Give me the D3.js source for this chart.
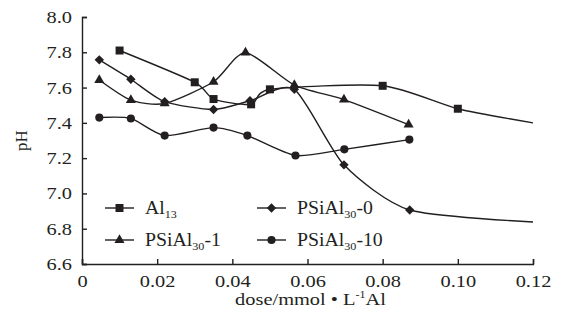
<!DOCTYPE html>
<html>
<head>
<meta charset="utf-8">
<script src="https://cdn.jsdelivr.net/npm/d3@7"></script>
<style>
  body { margin: 0; background: #fff; }
  svg text { font-family: "Liberation Serif", "Times New Roman", serif; fill: #231f20; }
</style>
</head>
<body>
<svg id="chart" width="564" height="321"></svg>
<script>
// values (dose in mmol/L Al, pH)
const al13Dose = [0.010, 0.030, 0.035, 0.045, 0.050, 0.080, 0.100, 0.120];
const al13PH = [7.81, 7.63, 7.535, 7.505, 7.59, 7.61, 7.48, 7.40];

const psi0Dose = [0.0046, 0.013, 0.022, 0.035, 0.0447, 0.0565, 0.0697, 0.0872, 0.120];
const psi0PH = [7.757, 7.647, 7.52, 7.476, 7.525, 7.59, 7.162, 6.906, 6.838];

const psi1Dose = [0.0046, 0.013, 0.022, 0.035, 0.0435, 0.0565, 0.0697, 0.0869];
const psi1PH = [7.643, 7.529, 7.51, 7.633, 7.798, 7.614, 7.532, 7.39];

const psi10Dose = [0.0046, 0.013, 0.022, 0.035, 0.044, 0.0568, 0.0698, 0.0871];
const psi10PH = [7.43, 7.425, 7.328, 7.373, 7.328, 7.215, 7.25, 7.305];

const xTicks = [0, 0.02, 0.04, 0.06, 0.08, 0.10, 0.12];
const yTicks = [6.6, 6.8, 7.0, 7.2, 7.4, 7.6, 7.8, 8.0];

const width = 564;
const height = 321;
const margin = {left: 82, right: 31, top: 17, bottom: 57};
const ink = '#231f20';
const stretch = 'scale(1.2,1)'; // the source type is set a little wide

const svg = d3.select('#chart');

const x = d3.scaleLinear()
  .domain([0, 0.12])
  .range([margin.left, width - margin.right]);

const y = d3.scaleLinear()
  .domain([6.6, 8.0])
  .range([height - margin.bottom, margin.top]);

// axes, ticks pointing inward
const xAxis = d3.axisBottom(x)
  .tickValues(xTicks)
  .tickSizeInner(-5)
  .tickSizeOuter(-5)
  .tickPadding(11)
  .tickFormat(d => d === 0 ? '0' : d3.format('.2f')(d));

const yAxis = d3.axisLeft(y)
  .tickValues(yTicks)
  .tickSizeInner(-5)
  .tickSizeOuter(-5)
  .tickPadding(8.3)
  .tickFormat(d3.format('.1f'));

const gx = svg.append('g')
  .attr('transform', 'translate(0,' + (height - margin.bottom) + ')')
  .call(xAxis);

const gy = svg.append('g')
  .attr('transform', 'translate(' + margin.left + ',0)')
  .call(yAxis);

[gx, gy].forEach(g => {
  g.attr('font-family', '"Liberation Serif", serif').attr('font-size', 17);
  g.selectAll('path, line').attr('stroke', ink).attr('stroke-width', 1.4);
  g.selectAll('text')
    .style('font-family', '"Liberation Serif", serif')
    .style('font-size', '17px')
    .attr('fill', ink)
    .attr('transform', stretch);
});

// series
const series = [
  {name: 'Al', sub: '13', tail: '', dose: al13Dose, ph: al13PH, symbol: d3.symbolSquare, size: 64},
  {name: 'PSiAl', sub: '30', tail: '-0', dose: psi0Dose, ph: psi0PH, symbol: d3.symbolDiamond2, size: 56},
  {name: 'PSiAl', sub: '30', tail: '-1', dose: psi1Dose, ph: psi1PH, symbol: d3.symbolTriangle, size: 44},
  {name: 'PSiAl', sub: '30', tail: '-10', dose: psi10Dose, ph: psi10PH, symbol: d3.symbolCircle, size: 52}
];

// smoothed lines, a bit tighter than plain catmull-rom to avoid overshoot
const line = d3.line()
  .x(d => x(d[0]))
  .y(d => y(d[1]))
  .curve(d3.curveCardinal.tension(0.3));

series.forEach(s => {
  const pts = s.dose.map((d, i) => [d, s.ph[i]]);

  svg.append('path')
    .datum(pts)
    .attr('fill', 'none')
    .attr('stroke', ink)
    .attr('stroke-width', 1.4)
    .attr('d', line);

  // the lines run on to the axis end without a marker there
  svg.selectAll(null)
    .data(pts.filter(p => p[0] < 0.12))
    .enter()
    .append('path')
    .attr('transform', p => 'translate(' + x(p[0]) + ',' + y(p[1]) + ')')
    .attr('d', d3.symbol().type(s.symbol).size(s.size))
    .attr('fill', ink);
});

// legend
const legendPos = [
  {lx: 105, ly: 208},
  {lx: 257, ly: 208},
  {lx: 105, ly: 240},
  {lx: 257, ly: 240}
];

series.forEach((s, i) => {
  const p = legendPos[i];
  const g = svg.append('g').attr('transform', 'translate(' + p.lx + ',' + p.ly + ')');

  g.append('line')
    .attr('x1', 0).attr('x2', 29)
    .attr('y1', 0).attr('y2', 0)
    .attr('stroke', ink)
    .attr('stroke-width', 1.4);

  g.append('path')
    .attr('transform', 'translate(14.5,0)')
    .attr('d', d3.symbol().type(s.symbol).size(s.size))
    .attr('fill', ink);

  const t = g.append('g')
    .attr('transform', 'translate(40,6) scale(1.1,1)')
    .append('text')
    .style('font-size', '18px');
  t.append('tspan').text(s.name);
  t.append('tspan').attr('dy', 4).style('font-size', '11px').text(s.sub);
  if (s.tail) t.append('tspan').attr('dy', -4).text(s.tail);
});

// axis titles
const xt = svg.append('g')
  .attr('transform', 'translate(' + ((margin.left + width - margin.right) / 2 + 3) + ',305) ' + stretch)
  .append('text')
  .attr('text-anchor', 'middle')
  .style('font-size', '17px');
xt.append('tspan').text('dose/mmol • L');
xt.append('tspan').attr('dy', -7).style('font-size', '10px').text('-1');
xt.append('tspan').attr('dy', 7).text('Al');

svg.append('text')
  .attr('transform', 'translate(27,' + (margin.top + (height - margin.bottom - margin.top) / 2) + ') rotate(-90)')
  .attr('text-anchor', 'middle')
  .style('font-size', '17px')
  .text('pH');
</script>
</body>
</html>
